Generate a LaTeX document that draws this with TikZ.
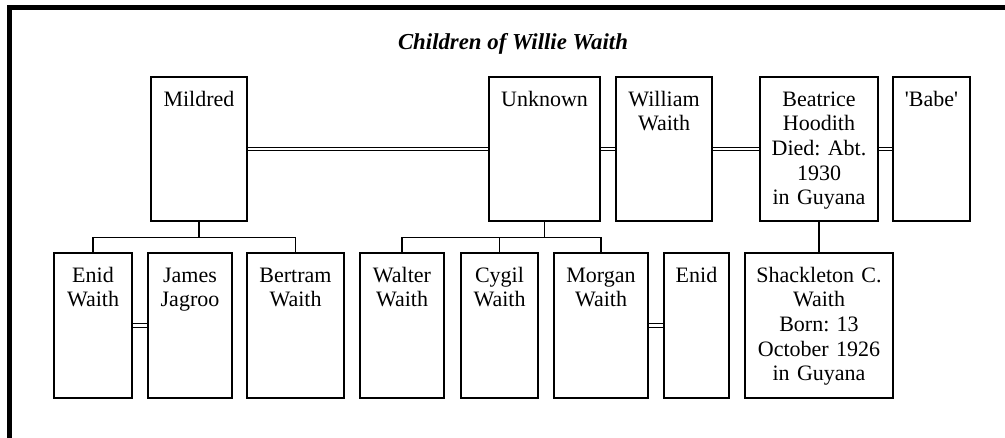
\documentclass[tikz,border=0pt]{standalone}
\usepackage{fontspec}
\setmainfont{Liberation Serif}
\usetikzlibrary{backgrounds}
\frenchspacing
\begin{document}
\begin{tikzpicture}[x=1pt,y=-1pt,
  pbox/.style={draw, line width=1.3pt, inner sep=0pt},
  ptext/.style={anchor=base, align=center, inner sep=0pt,
    font=\fontsize{22}{24.6}\selectfont\frenchspacing},
  spouse/.style={draw, double, double distance=2.4pt, line width=1.15pt},
  kin/.style={draw, line width=1.3pt},
  frame/.style={draw, line width=4.6pt, line join=miter}]
\useasboundingbox (0,0) rectangle (1005,438);
\clip (0,0) rectangle (1005,438);

% outer frame (runs off the right and bottom edges)
\path[frame] (9.3,460) -- (9.3,7.5) -- (1030,7.5);

% title
\node[anchor=base, inner sep=0pt, font=\fontsize{22.8}{27}\selectfont\bfseries\itshape]
  (title) at (513,50) {Children of Willie Waith};

% parents' generation
\node[pbox, minimum width=96,  minimum height=144] (mildred)  at (199,149)   {};
\node[pbox, minimum width=111, minimum height=144] (unknown)  at (544.5,149) {};
\node[pbox, minimum width=96,  minimum height=144] (william)  at (664,149)   {};
\node[pbox, minimum width=118, minimum height=144] (beatrice) at (819,149)   {};
\node[pbox, minimum width=77,  minimum height=144] (babe)     at (931.5,149) {};

% children's generation
\node[pbox, minimum width=78,  minimum height=145] (enidw)   at (93,325.5)    {};
\node[pbox, minimum width=84,  minimum height=145] (james)   at (190,325.5)   {};
\node[pbox, minimum width=97,  minimum height=145] (bertram) at (295.5,325.5) {};
\node[pbox, minimum width=84,  minimum height=145] (walter)  at (402,325.5)   {};
\node[pbox, minimum width=77,  minimum height=145] (cygil)   at (499.5,325.5) {};
\node[pbox, minimum width=94,  minimum height=145] (morgan)  at (601,325.5)   {};
\node[pbox, minimum width=65,  minimum height=145] (enid)    at (696.5,325.5) {};
\node[pbox, minimum width=148, minimum height=145] (shack)   at (819,325.5)   {};

% names and dates
\node[ptext, text width=94]  (mildredT)  at ([yshift=-30pt]mildred.north)  {Mildred};
\node[ptext, text width=109] (unknownT)  at ([yshift=-30pt]unknown.north)  {Unknown};
\node[ptext, text width=94]  (williamT)  at ([yshift=-30pt]william.north)  {William\\Waith};
\node[ptext, text width=116] (beatriceT) at ([yshift=-30pt]beatrice.north) {Beatrice\\Hoodith\\Died: Abt.\\1930\\in Guyana};
\node[ptext, text width=75]  (babeT)     at ([yshift=-30pt]babe.north)     {\textquotesingle Babe\textquotesingle};
\node[ptext, text width=76]  (enidwT)    at ([yshift=-30pt]enidw.north)    {Enid\\Waith};
\node[ptext, text width=82]  (jamesT)    at ([yshift=-30pt]james.north)    {James\\Jagroo};
\node[ptext, text width=95]  (bertramT)  at ([yshift=-30pt]bertram.north)  {Bertram\\Waith};
\node[ptext, text width=82]  (walterT)   at ([yshift=-30pt]walter.north)   {Walter\\Waith};
\node[ptext, text width=75]  (cygilT)    at ([yshift=-30pt]cygil.north)    {Cygil\\Waith};
\node[ptext, text width=92]  (morganT)   at ([yshift=-30pt]morgan.north)   {Morgan\\Waith};
\node[ptext, text width=63]  (enidT)     at ([yshift=-30pt]enid.north)     {Enid};
\node[ptext, text width=146] (shackT)    at ([yshift=-30pt]shack.north)    {Shackleton C.\\Waith\\Born: 13\\October 1926\\in Guyana};

\begin{scope}[on background layer]
  % marriages
  \path[spouse] (mildred.east)  -- (unknown.west);
  \path[spouse] (unknown.east)  -- (william.west);
  \path[spouse] (william.east)  -- (beatrice.west);
  \path[spouse] (beatrice.east) -- (babe.west);
  \path[spouse] (enidw.east)    -- (james.west);
  \path[spouse] (morgan.east)   -- (enid.west);
  % descent
  \path[kin] (mildred.south) -- ++(0,16) -| (enidw.north);
  \path[kin] (mildred.south) -- ++(0,16) -| (bertram.north);
  \path[kin] (unknown.south) -- ++(0,16) -| (walter.north);
  \path[kin] (unknown.south) -- ++(0,16) -| (cygil.north);
  \path[kin] (unknown.south) -- ++(0,16) -| (morgan.north);
  \path[kin] (beatrice.south) -- (shack.north);
\end{scope}
\end{tikzpicture}
\end{document}
